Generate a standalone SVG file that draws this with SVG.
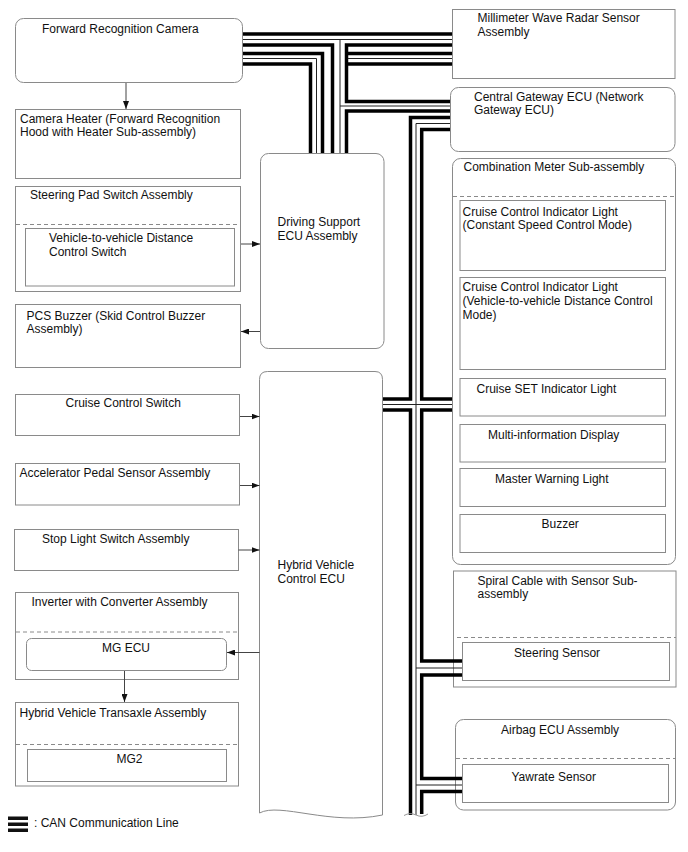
<svg xmlns="http://www.w3.org/2000/svg" width="688" height="852" viewBox="0 0 688 852">
<style>
.box{fill:#fff;stroke:#8a8a8a;stroke-width:1}
.dash{fill:none;stroke:#8a8a8a;stroke-width:1;stroke-dasharray:4 3}
.t{font-family:"Liberation Sans",Arial,sans-serif;font-size:12px;fill:#111}
.ar{fill:none;stroke:#444;stroke-width:1;marker-end:url(#ah)}
.ck{fill:none;stroke:#000;stroke-width:3.5}
.cn{fill:none;stroke:#222;stroke-width:1}
</style>
<defs>
<marker id="ah" markerUnits="userSpaceOnUse" markerWidth="8" markerHeight="6" refX="8" refY="3" orient="auto">
<path d="M0,0 L8,3 L0,6 Z" fill="#111"/>
</marker>
</defs>
<rect width="688" height="852" fill="#fff"/>

<g id="camera"><rect class="box" x="15.5" y="18.5" width="227" height="64" rx="8"/><text class="t" x="42" y="32.5">Forward Recognition Camera</text></g>
<g id="heater"><rect class="box" x="15.5" y="109.5" width="225" height="69"/><text class="t" x="20" y="123">Camera Heater (Forward Recognition</text><text class="t" x="20" y="136">Hood with Heater Sub-assembly)</text></g>
<g id="steeringpad"><rect class="box" x="15.5" y="186.5" width="225" height="105"/><line class="dash" x1="16" y1="224.5" x2="240" y2="224.5"/><text class="t" x="30" y="198.5">Steering Pad Switch Assembly</text><rect class="box" x="25.5" y="228.5" width="209" height="57.5"/><text class="t" x="49" y="242">Vehicle-to-vehicle Distance</text><text class="t" x="49" y="255.5">Control Switch</text></g>
<g id="pcsbuzzer"><rect class="box" x="15.5" y="304.5" width="225" height="63"/><text class="t" x="26.5" y="319.5">PCS Buzzer (Skid Control Buzzer</text><text class="t" x="26.5" y="333">Assembly)</text></g>
<g id="dsecu"><rect class="box" x="260.5" y="153.5" width="123.5" height="195" rx="8"/><text class="t" x="277.5" y="226">Driving Support</text><text class="t" x="277.5" y="239.5">ECU Assembly</text></g>
<g id="hvecu"><path class="box" d="M259.5,813 V379.5 Q259.5,371.5 267.5,371.5 H375 Q382.5,371.5 382.5,379.5 V815 C330,826 280,802 259.5,813 Z"/><text class="t" x="277.5" y="568.5">Hybrid Vehicle</text><text class="t" x="277.5" y="582.5">Control ECU</text></g>
<g id="cruiseswitch"><rect class="box" x="15.5" y="394.5" width="224" height="41"/><text class="t" x="65.5" y="407">Cruise Control Switch</text></g>
<g id="accel"><rect class="box" x="15.5" y="463.5" width="224" height="41.5"/><text class="t" x="19.5" y="476.5">Accelerator Pedal Sensor Assembly</text></g>
<g id="stoplight"><rect class="box" x="14.5" y="529.5" width="224" height="41"/><text class="t" x="42" y="543">Stop Light Switch Assembly</text></g>
<g id="inverter"><rect class="box" x="15.5" y="592.5" width="223" height="87"/><line class="dash" x1="16" y1="632" x2="238" y2="632"/><text class="t" x="31.5" y="605.5">Inverter with Converter Assembly</text><rect class="box" x="26.5" y="638.5" width="200" height="32" rx="5"/><text class="t" x="102" y="652">MG ECU</text></g>
<g id="transaxle"><rect class="box" x="15.5" y="702.5" width="223" height="83.5"/><line class="dash" x1="16" y1="744.5" x2="238" y2="744.5"/><text class="t" x="19.5" y="717">Hybrid Vehicle Transaxle Assembly</text><rect class="box" x="27.5" y="749.5" width="199" height="32"/><text class="t" x="116.5" y="763">MG2</text></g>

<g id="radar"><rect class="box" x="452.5" y="9.5" width="222.5" height="69"/><text class="t" x="477.5" y="21.5">Millimeter Wave Radar Sensor</text><text class="t" x="477.5" y="35.5">Assembly</text></g>
<g id="gateway"><rect class="box" x="450.5" y="87.5" width="224.5" height="64" rx="8"/><text class="t" x="474" y="100.5">Central Gateway ECU (Network</text><text class="t" x="474" y="114">Gateway ECU)</text></g>
<g id="meter"><rect class="box" x="452.5" y="158.5" width="223" height="406" rx="8"/><line class="dash" x1="453" y1="196.5" x2="675" y2="196.5"/><text class="t" x="463.5" y="171">Combination Meter Sub-assembly</text>
<rect class="box" x="460" y="200.5" width="205.5" height="70"/><text class="t" x="462.5" y="215.5">Cruise Control Indicator Light</text><text class="t" x="462.5" y="229">(Constant Speed Control Mode)</text>
<rect class="box" x="460" y="277.5" width="205.5" height="92"/><text class="t" x="462.5" y="291">Cruise Control Indicator Light</text><text class="t" x="462.5" y="305">(Vehicle-to-vehicle Distance Control</text><text class="t" x="462.5" y="319">Mode)</text>
<rect class="box" x="460" y="378.5" width="205.5" height="37.5"/><text class="t" x="476.5" y="393">Cruise SET Indicator Light</text>
<rect class="box" x="460" y="424.5" width="205.5" height="37.5"/><text class="t" x="488" y="438.5">Multi-information Display</text>
<rect class="box" x="460" y="468.5" width="205.5" height="38"/><text class="t" x="495" y="482.5">Master Warning Light</text>
<rect class="box" x="460" y="514.5" width="205.5" height="38"/><text class="t" x="541.5" y="527.5">Buzzer</text></g>
<g id="spiral"><rect class="box" x="453.5" y="571" width="222.5" height="116"/><line class="dash" x1="457" y1="637.5" x2="676" y2="637.5"/><text class="t" x="477.5" y="584.5">Spiral Cable with Sensor Sub-</text><text class="t" x="477.5" y="598">assembly</text><rect class="box" x="462.5" y="642.5" width="207" height="38"/><text class="t" x="514" y="656.5">Steering Sensor</text></g>
<g id="airbag"><rect class="box" x="455.5" y="719.5" width="220" height="90.5" rx="8"/><line class="dash" x1="456" y1="758.5" x2="675" y2="758.5"/><text class="t" x="501" y="733.5">Airbag ECU Assembly</text><rect class="box" x="462.5" y="764.5" width="206" height="38"/><text class="t" x="511.5" y="780.5">Yawrate Sensor</text></g>

<g id="connectors">
<path class="ar" d="M126,83 V109"/>
<path class="ar" d="M241,244 H260"/>
<path class="ar" d="M260,331.5 H241"/>
<path class="ar" d="M240,416.5 H259.5"/>
<path class="ar" d="M240,485.5 H259.5"/>
<path class="ar" d="M238.5,550 H259.5"/>
<path class="ar" d="M259.5,652.5 H227"/>
<path class="ar" d="M124.5,671 V702"/>

<path class="ck" d="M243,34 H452"/>
<path class="cn" d="M243,39.5 H452"/>
<path class="cn" d="M340,39.5 V153"/>
<path class="ck" d="M243,45 H332.5 V153"/>
<path class="ck" d="M243,53.5 H322.5 V153"/>
<path class="cn" d="M243,58.5 H316.5 V153"/>
<path class="ck" d="M243,64 H310.5 V153"/>
<path class="ck" d="M452,45 H346.5 V101.5 H450"/>
<path class="ck" d="M348,53.5 H452"/>
<path class="cn" d="M348,58.5 H452"/>
<path class="ck" d="M348,64 H452"/>
<path class="cn" d="M340,106 H450"/>
<path class="ck" d="M450,111 H346.5 V153"/>

<path class="ck" d="M450,117.5 H410.5 V399 H383"/>
<path class="cn" d="M450,123.5 H416 V815"/>
<path class="ck" d="M450,129.5 H421.7 V399 H452"/>
<path class="cn" d="M383,404.5 H452"/>
<path class="ck" d="M383,410 H410.5 V815"/>
<path class="ck" d="M452,410 H421.7 V661 H462"/>
<path class="cn" d="M416,668 H462"/>
<path class="ck" d="M462,675 H421.7 V778.5 H462"/>
<path class="cn" d="M416,785 H462"/>
<path class="ck" d="M462,791.5 H421.7 V814"/>
<path d="M404,815.5 Q410,812 416,815 T428,814" fill="none" stroke="#999" stroke-width="1"/>
</g>

<g id="legend">
<rect x="8" y="816.5" width="20" height="3.5" fill="#111"/>
<rect x="8" y="822.5" width="20" height="3.5" fill="#111"/>
<rect x="8" y="828.5" width="20" height="3.5" fill="#111"/>
<text class="t" x="34" y="827">: CAN Communication Line</text>
</g>
</svg>
